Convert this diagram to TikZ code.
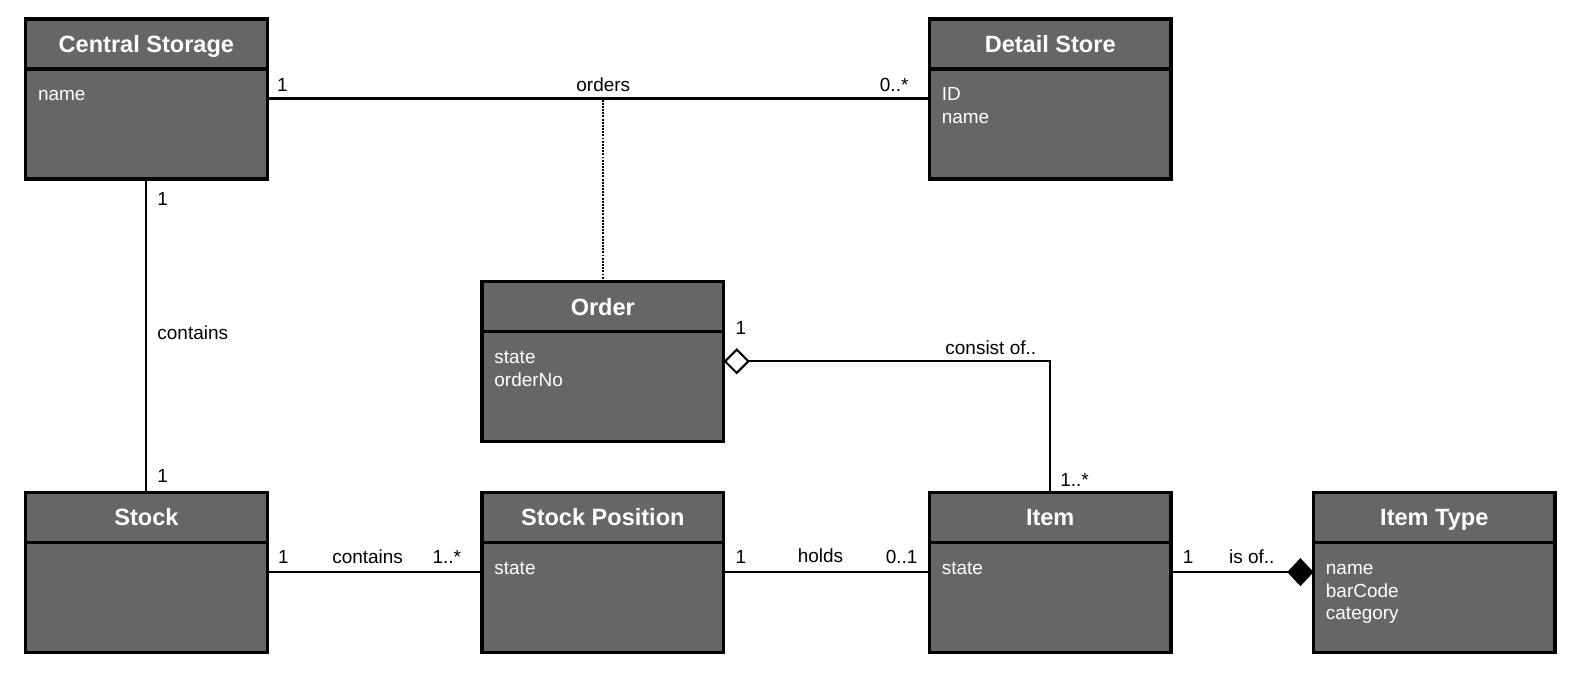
\documentclass[tikz,border=0pt]{standalone}
\usepackage{fontspec}
\setmainfont{Liberation Sans}
\usetikzlibrary{positioning,calc}
\usetikzlibrary{arrows.meta}

\definecolor{boxgray}{HTML}{666666}

\tikzset{
  classhead/.style={draw, line width=1.8pt, fill=boxgray, text=white, outer sep=0pt,
    minimum width=4.83cm, minimum height=1cm, text height=9.6pt, text depth=0pt,
    font=\fontsize{13.4}{16}\selectfont\bfseries},
  classbody/.style={draw, line width=1.8pt, fill=boxgray, outer sep=0pt,
    minimum width=4.83cm, minimum height=2.2cm},
  classattr/.style={anchor=north west, inner sep=0pt, text=white, align=left,
    font=\fontsize{10.8}{13}\selectfont},
  assoc/.style={line width=1.2pt},
  assocdot/.style={line width=1.2pt, dash pattern=on 1.1pt off 0.7pt},
  mult/.style={inner sep=0pt, font=\fontsize{10.8}{13}\selectfont},
}

\begin{document}
\begin{tikzpicture}[x=0.02cm, y=0.02cm]
  % \draw[step=50, gray!20!white, very thin] (0,0) grid (1572,675);
  \useasboundingbox (0,0) rectangle (1572,675);

  \node[classhead] at (146.4, 631) (h_cs) {Central Storage};
  \node[classbody] (b_cs) [below=0pt of h_cs] {};
  \node[classattr] (a_cs) at ([shift={(0.24cm,-0.31cm)}]b_cs.north west) {\strut name};

  \node[classhead] at (1050.2, 631) (h_ds) {Detail Store};
  \node[classbody] (b_ds) [below=0pt of h_ds] {};
  \node[classattr] (a_ds) at ([shift={(0.24cm,-0.31cm)}]b_ds.north west) {\strut ID\\name};

  \node[classhead] at (602.8, 368.2) (h_ord) {Order};
  \node[classbody] (b_ord) [below=0pt of h_ord] {};
  \node[classattr] (a_ord) at ([shift={(0.24cm,-0.31cm)}]b_ord.north west) {\strut state\\orderNo};

  \node[classhead] at (146.4, 157.6) (h_st) {Stock};
  \node[classbody] (b_st) [below=0pt of h_st] {};

  \node[classhead] at (602.8, 157.6) (h_sp) {Stock Position};
  \node[classbody] (b_sp) [below=0pt of h_sp] {};
  \node[classattr] (a_sp) at ([shift={(0.24cm,-0.31cm)}]b_sp.north west) {\strut state};

  \node[classhead] at (1050.2, 157.6) (h_it) {Item};
  \node[classbody] (b_it) [below=0pt of h_it] {};
  \node[classattr] (a_it) at ([shift={(0.24cm,-0.31cm)}]b_it.north west) {\strut state};

  \node[classhead] at (1434.3, 157.6) (h_ty) {Item Type};
  \node[classbody] (b_ty) [below=0pt of h_ty] {};
  \node[classattr] (a_ty) at ([shift={(0.24cm,-0.31cm)}]b_ty.north west) {\strut name\\barCode\\category};

  \draw [assoc] ([yshift=-0.59cm]b_cs.north east) --
    node[mult, pos=0, anchor=base west, shift={(9,7)}] (m_1) {1}
    node[mult, anchor=base, shift={(5,7)}] (m_2) {orders}
    node[mult, pos=1, anchor=base east, shift={(-20,7)}] (m_3) {0..*}
    ([yshift=-0.59cm]b_ds.north west);
  \draw [assocdot] (h_ord.north) -- ($(h_ord.north |- b_cs.north)+(0,-0.59cm)$);

  \draw [assoc] (b_cs.south) --
    node[mult, pos=0, anchor=base west, shift={(10,-27)}] (m_4) {1}
    node[mult, anchor=west, shift={(10,3)}] (m_5) {contains}
    node[mult, pos=1, anchor=base west, shift={(10,10)}] (m_6) {1}
    (h_st.north);

  \draw [assoc] ([yshift=-0.595cm]b_st.north east) --
    node[mult, pos=0, anchor=base west, shift={(10,9)}] (m_7) {1}
    node[mult, anchor=base, shift={(-7,9)}] (m_8) {contains}
    node[mult, pos=1, anchor=base east, shift={(-20,9)}] (m_9) {1..*}
    ([yshift=-0.595cm]b_sp.north west);

  \draw [assoc] ([yshift=-0.595cm]b_sp.north east) --
    node[mult, pos=0, anchor=base west, shift={(11,9)}] (m_10) {1}
    node[mult, anchor=base, shift={(-6,10)}] (m_11) {holds}
    node[mult, pos=1, anchor=base east, shift={(-11,9)}] (m_12) {0..1}
    ([yshift=-0.595cm]b_it.north west);

  \draw [assoc, -{Diamond[length=15pt, width=16pt]}] ([yshift=-0.595cm]b_it.north east) --
    node[mult, pos=0, anchor=base west, shift={(11,9)}] (m_13) {1}
    node[mult, pos=1, anchor=base east, shift={(-38,9)}] (m_14) {is of..}
    ([yshift=-0.595cm]b_ty.north west);

  \draw [assoc, {Diamond[open, length=15pt, width=15pt]}-] ([yshift=-0.59cm]b_ord.north east) -|
    node[mult, pos=0, anchor=base west, shift={(11,27)}] (m_15) {1}
    node[mult, pos=0.5, anchor=base east, shift={(-13,7)}] (m_16) {consist of..}
    node[mult, pos=1, anchor=base west, shift={(9,6)}] (m_17) {1..*}
    (h_it.north);

\end{tikzpicture}
\end{document}
